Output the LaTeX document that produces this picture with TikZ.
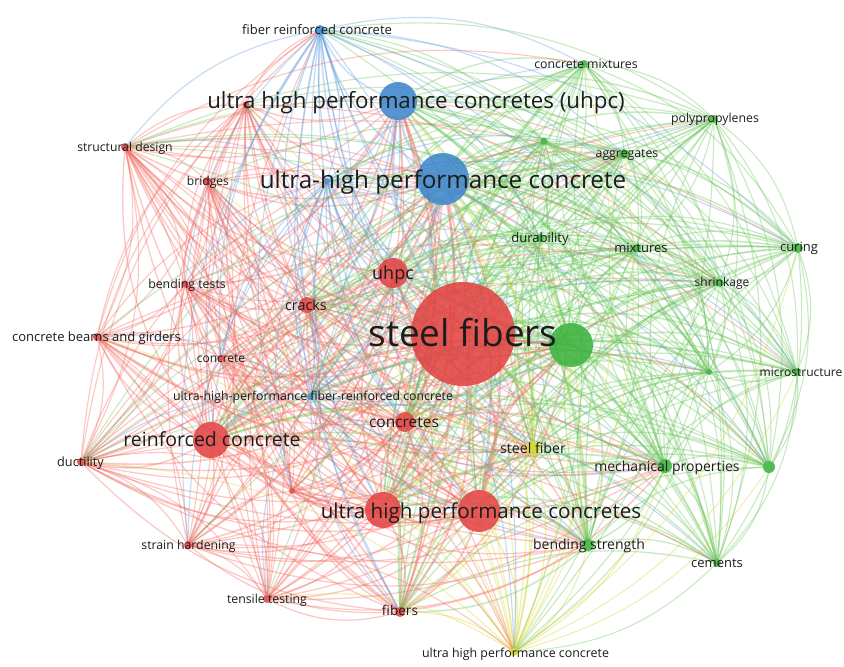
\documentclass[tikz,border=0pt]{standalone}
\usepackage{fontspec}
\setmainfont{Open Sans}
\definecolor{nr}{RGB}{226,64,64}
\definecolor{ng}{RGB}{56,176,56}
\definecolor{nb}{RGB}{58,132,202}
\definecolor{ny}{RGB}{212,212,34}
\definecolor{er}{RGB}{244,104,94}
\definecolor{eg}{RGB}{104,198,88}
\definecolor{eb}{RGB}{96,156,224}
\definecolor{ey}{RGB}{216,214,52}
\definecolor{labtext}{RGB}{28,28,28}
\pgfdeclarelayer{paper}
\pgfdeclarelayer{links}
\pgfsetlayers{paper,links,main}

% keyword / x / y / radius / cluster / weight
\def\kwlist{sf/463/334/52/r/5, uhpcB/443/179/26/b/4, uhpcU/398/101/19/b/3,
 uhpcsR/479/511/21/r/3, uhpcsL/383/510/18/r/3, rc/211/440/18/r/3, gbig/571/345/22/g/3,
 uhpc/393/273/15/r/2, concs/405/422/10/r/2, cracks/307/305/8/r/2, sfb/533/448/7/y/2,
 mp/665/466/7/g/2, bs/588/545/6/g/2, fib/400/612/5/r/2,
 sd/125/147/4/r/1, br/207/181/4/r/1, bt/185/284/3.5/r/1, cbg/97/337/4/r/1,
 conc/221/358/3/r/1, duct/81/462/4/r/1, sh/188/545/4/r/1, tt/267/599/4/r/1,
 rdota/292/491/3/r/1, rdotb/246/105/3.5/r/1,
 frc/320/30/5/b/1, uhpfrc/310/397/3/b/1, bdot/327/181/3/b/1,
 cm/584/64/4/g/1, pp/714/119/4/g/1, agg/624/154/5/g/1, gdota/544/141/3.5/g/1,
 dur/540/238/4/g/1, mix/637/248/4/g/1, cur/798/248/5/g/1, shr/720/283/4/g/1,
 micro/797/372/4/g/1, gdotb/709/372/3/g/1, gdotc/769/467/6/g/1, cem/717/563/4/g/1,
 uhpcY/514/652/4/y/1}

\tikzset{
  kw/.style={circle, inner sep=0pt, outer sep=0pt, draw=none, fill opacity=0.86},
  lab/.style={text=labtext, inner sep=0pt, anchor=base},
  link/.style={draw opacity=0.36, line cap=round}
}

\begin{document}
\begin{tikzpicture}[x=1pt,y=-1pt]
\begin{pgfonlayer}{paper}
\fill[white] (0,0) rectangle (844,667);
\end{pgfonlayer}
\useasboundingbox (0,0) rectangle (844,667);

% keyword circles
\foreach \n/\x/\y/\r/\k/\w in \kwlist
  \node[kw, fill=n\k, minimum size={2*\r pt}] (\n) at (\x,\y) {};

% co-occurrence links, drawn beneath the circles;
% a link takes the colour of the lighter of its two keywords,
% and only a few pairs of minor keywords from different clusters are linked
\begin{pgfonlayer}{links}
\foreach \a/\xa/\ya/\ra/\ka/\wa [count=\i] in \kwlist {
  \foreach \b/\xb/\yb/\rb/\kb/\wb [count=\j] in \kwlist {
    \ifnum\j>\i
      \def\keep{1}
      \ifnum\numexpr\wa*\wb\relax=1
        \if\ka\kb\else
          \ifnum\numexpr\i*\j-5*(\i*\j/5)\relax=0 \else\def\keep{0}\fi
        \fi
      \fi
      \if b\ka\def\keep{1}\fi
      \if b\kb\def\keep{1}\fi
      \if1\keep
        \ifnum\wa<\wb \def\lc{e\ka}\else
          \ifnum\wb<\wa \def\lc{e\kb}\else
            \ifodd\numexpr\i+\j\relax \def\lc{e\ka}\else\def\lc{e\kb}\fi
          \fi
        \fi
        \pgfmathsetmacro\lw{1.0+0.12*\wa*\wb}
        \draw[link, draw=\lc, line width=\lw pt] (\a) to[bend left=20] (\b);
      \fi
    \fi
  }
}
\end{pgfonlayer}

% keyword labels: name / x / y / size / text
\foreach \n/\x/\y/\s/\t in {
  sf/463/334/37/steel fibers,
  uhpc/393/273/18/uhpc,
  cracks/306/305/14.4/cracks,
  concs/404/422/15.5/concretes,
  sfb/533/449/14.2/steel fiber,
  uhpcsR/481/511/20.6/ultra high performance concretes,
  rc/212/440/19.5/reinforced concrete,
  uhpcU/416/101/22.3/ultra high performance concretes (uhpc),
  uhpcB/443/180/24.2/ultra-high performance concrete,
  frc/317/30/13/fiber reinforced concrete,
  sd/125/147/12.2/structural design,
  br/208/181/12.1/bridges,
  bt/187/284/12.3/bending tests,
  cbg/96.5/337/13/concrete beams and girders,
  conc/221/358/12/concrete,
  uhpfrc/313/396/12.3/ultra-high-performance fiber-reinforced concrete,
  duct/80.5/462/12.7/ductility,
  sh/188.5/545/12.3/strain hardening,
  tt/267/599/12.3/tensile testing,
  fib/400/611/13.6/fibers,
  uhpcY/515.5/653/12.4/ultra high performance concrete,
  cm/586/64/12.3/concrete mixtures,
  pp/715/118/12.3/polypropylenes,
  agg/627/153/12.3/aggregates,
  dur/540/238/13/durability,
  mix/641/248/13/mixtures,
  cur/799/247/13/curing,
  shr/722/282/12/shrinkage,
  micro/801/372/12/microstructure,
  mp/667/467/14/mechanical properties,
  bs/589/545/14/bending strength,
  cem/717/563/13/cements}
  \node[lab, font=\fontsize{\s}{\s}\selectfont] (l-\n) at (\x,{\y+0.35*\s}) {\t};
\end{tikzpicture}
\end{document}
